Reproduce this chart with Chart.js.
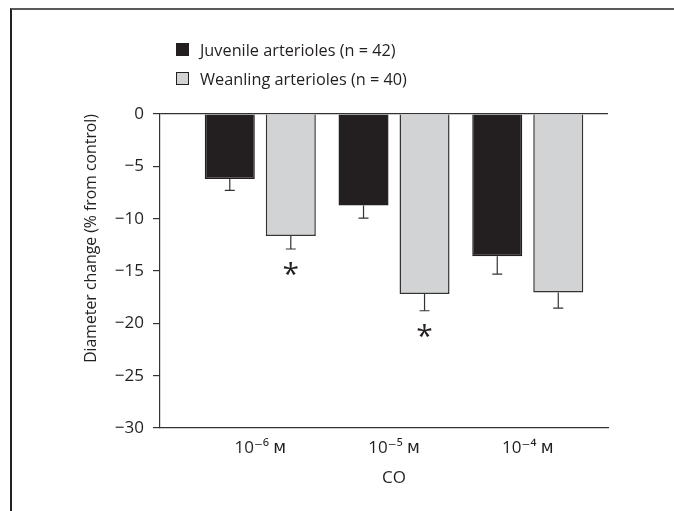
<!DOCTYPE html>
<html><head><meta charset="utf-8">
<script src="https://cdn.jsdelivr.net/npm/chart.js@4.4.0/dist/chart.umd.min.js"></script>
<style>
html,body{margin:0;padding:0;background:#fff;}
#wrap{position:relative;width:674px;height:511px;overflow:hidden;}
#frame{position:absolute;left:10px;top:8px;right:-5px;bottom:-5px;border-top:2px solid #5a5a5a;border-left:2px solid #222;pointer-events:none;}
#legend{position:absolute;left:176px;top:35px;font-family:'Open Sans';font-size:16.3px;color:#231f20;}
.item{display:flex;align-items:center;height:29px;white-space:nowrap;}
.box{width:11px;height:11px;border:1.5px solid #231f20;margin-right:11px;}
</style></head>
<body><div id="wrap"><canvas id="c" width="674" height="511"></canvas><div id="legend"></div><div id="frame"></div></div>
<script>
const categories = ['10⁻⁶ ᴍ', '10⁻⁵ ᴍ', '10⁻⁴ ᴍ'];
const seriesNames = ['Juvenile arterioles (n = 42)', 'Weanling arterioles (n = 40)'];
const juvenileMean = [-6.2, -8.75, -13.6];
const juvenileSem = [1.1, 1.2, 1.7];
const weanlingMean = [-11.65, -17.2, -17.05];
const weanlingSem = [1.25, 1.6, 1.5];
const juvenileSig = [false, false, false];
const weanlingSig = [true, true, false];
const yTicks = [0, -5, -10, -15, -20, -25, -30];
const xTitle = 'CO';
const yTitle = 'Diameter change (% from control)';

const FONTS = '"Open Sans", "DejaVu Sans"';
const TEXT = '#231f20';
const colors = ['#231f20', '#d1d3d4'];

const toPoints = arr => arr.map((v, i) => ({ x: i + 1, y: v }));

const errorPlugin = {
  id: 'errbars',
  afterDatasetsDraw(chart) {
    const ctx = chart.ctx;
    const ys = chart.scales.y;
    const xs = chart.scales.x;
    chart.data.datasets.forEach((ds, di) => {
      const meta = chart.getDatasetMeta(di);
      meta.data.forEach((bar, i) => {
        const v = ds.data[i].y;
        const e = ds.sem[i];
        const yEnd = ys.getPixelForValue(v - e);
        const yBar = ys.getPixelForValue(v);
        ctx.save();
        ctx.strokeStyle = '#333';
        ctx.lineWidth = 1.2;
        ctx.beginPath();
        ctx.moveTo(bar.x, yBar);
        ctx.lineTo(bar.x, yEnd);
        ctx.moveTo(bar.x - 5, yEnd);
        ctx.lineTo(bar.x + 5, yEnd);
        ctx.stroke();
        if (ds.sig[i]) {
          ctx.fillStyle = TEXT;
          ctx.font = '30px ' + FONTS;
          ctx.textAlign = 'center';
          ctx.textBaseline = 'alphabetic';
          const m = ctx.measureText('*');
          const cy = yEnd + 20;
          ctx.fillText('*', bar.x, cy + (m.actualBoundingBoxAscent - m.actualBoundingBoxDescent) / 2);
        }
        ctx.restore();
      });
    });
    // x-axis title, centred under the middle category
    ctx.save();
    ctx.fillStyle = TEXT;
    ctx.font = '17px ' + FONTS;
    ctx.textAlign = 'center';
    ctx.textBaseline = 'middle';
    const mid = (categories.length + 1) / 2;
    ctx.fillText(xTitle, xs.getPixelForValue(mid), xs.bottom - 16);
    ctx.restore();
  }
};

const chart = new Chart(document.getElementById('c'), {
  type: 'bar',
  data: {
    datasets: [
      { label: seriesNames[0], data: toPoints(juvenileMean), sem: juvenileSem, sig: juvenileSig,
        backgroundColor: colors[0], borderColor: '#231f20', borderWidth: 1.5 },
      { label: seriesNames[1], data: toPoints(weanlingMean), sem: weanlingSem, sig: weanlingSig,
        backgroundColor: colors[1], borderColor: '#333', borderWidth: 1.5 }
    ]
  },
  options: {
    responsive: false,
    animation: false,
    devicePixelRatio: 1,
    categoryPercentage: 0.9125,
    barPercentage: 0.82,
    layout: { padding: { left: 78, right: 66, top: 114, bottom: 17 } },
    plugins: { legend: { display: false }, tooltip: { enabled: false } },
    scales: {
      x: {
        type: 'linear', min: 0.25, max: 3.6, offset: false,
        afterBuildTicks: s => { s.ticks = categories.map((c, i) => ({ value: i + 1 })); },
        afterFit: s => { s.height = 66; },
        ticks: { callback: (v, i) => categories[i], autoSkip: false, maxRotation: 0, padding: 10,
                 color: TEXT, font: { family: FONTS, size: 17 } },
        grid: { display: false, drawTicks: false },
        border: { display: true, color: '#333', width: 1.2 },
        title: { display: false, text: xTitle }
      },
      y: {
        min: -30, max: 0,
        afterBuildTicks: s => { s.ticks = yTicks.map(v => ({ value: v })); },
        afterFit: s => { s.width = 82; },
        ticks: { callback: v => String(v).replace('-', '\u2212'), padding: 9,
                 color: TEXT, font: { family: FONTS, size: 17 } },
        grid: { color: c => (c.tick && c.tick.value === 0) ? '#333' : 'rgba(0,0,0,0)',
                tickColor: '#333', tickLength: 7, lineWidth: 1.2 },
        border: { display: true, color: '#333', width: 1.2 },
        title: { display: true, text: yTitle, align: 'end', color: TEXT, font: { family: FONTS, size: 15.8 } }
      }
    }
  },
  plugins: [errorPlugin]
});

const leg = document.getElementById('legend');
chart.data.datasets.forEach(ds => {
  const it = document.createElement('div'); it.className = 'item';
  const b = document.createElement('div'); b.className = 'box'; b.style.background = ds.backgroundColor;
  const t = document.createElement('span'); t.textContent = ds.label;
  it.appendChild(b); it.appendChild(t); leg.appendChild(it);
});
</script>
</body></html>
